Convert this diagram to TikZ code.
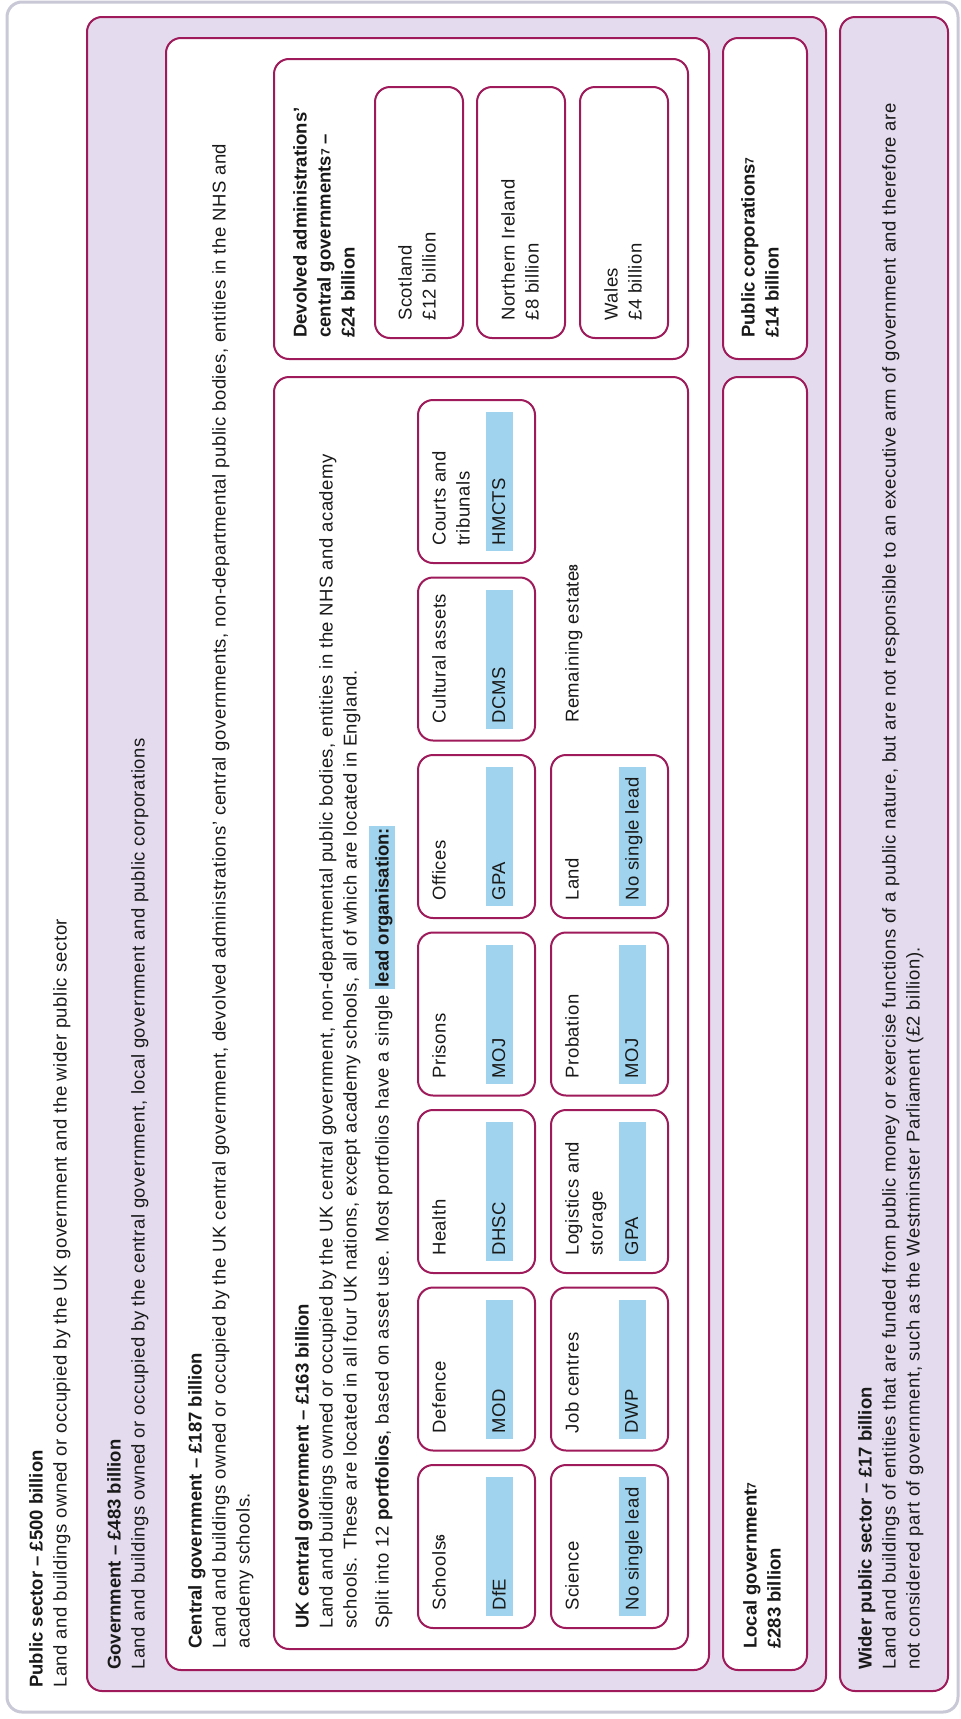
\documentclass[tikz,border=0pt]{standalone}
\usepackage{fontspec}
\setmainfont{Liberation Sans}[LetterSpace=3,BoldFeatures={LetterSpace=0}]
\definecolor{crim}{RGB}{158,26,90}
\definecolor{purp}{RGB}{228,220,238}
\definecolor{greyline}{RGB}{200,200,214}
\definecolor{hlblue}{RGB}{160,212,238}
\definecolor{ink}{RGB}{25,25,25}
\newcommand\fnum[1]{\raisebox{1pt}{\fontsize{12}{12}\selectfont\bfseries #1}}
\newcommand\hlt[1]{\smash{\setlength{\fboxsep}{0pt}\colorbox{hlblue}{\rule[-6pt]{0pt}{26pt}\hspace{2pt}#1\hspace{2pt}}}}
\newcommand\portf[5]{%
  \draw[wbox] (#2,{#3-163}) rectangle ({#2+117},#3);
  \fill[hlblue] ({#2+68},{#3-151}) rectangle ({#2+95},{#3-12});
  \node[txt] (#1) at ({#2+14},{#3-17}) {#4};
  \node[txt] (#1-lead) at ({#2+74},{#3-17}) {#5};
}
\begin{document}
\begin{tikzpicture}[x=1pt,y=-1pt,
  box/.style={draw=crim,line width=2pt,rounded corners=15pt},
  pbox/.style={box,fill=purp},
  wbox/.style={box,fill=white},
  txt/.style={rotate=90,anchor=north west,inner sep=0pt,align=left,font=\fontsize{18.5}{24}\selectfont,text=ink}]
\useasboundingbox (0,0) rectangle (961,1719);
\fill[white] (0,0) rectangle (961,1719);
% outer public sector frame
\draw[draw=greyline,line width=3pt,rounded corners=15pt,fill=white] (7,2) rectangle (958,1712);
% government
\draw[pbox] (87,17) rectangle (826,1691);
% wider public sector
\draw[pbox] (840,17) rectangle (948,1691);
% central government
\draw[wbox] (166,38) rectangle (709,1670);
% public corporations
\draw[wbox] (723,38) rectangle (807,359);
% local government
\draw[wbox] (723,377) rectangle (807,1670);
% devolved
\draw[wbox] (274,59) rectangle (688,359);
\draw[wbox] (375,87) rectangle (463,338);
\draw[wbox] (477,87) rectangle (565,338);
\draw[wbox] (580,87) rectangle (668,338);
% UK central
\draw[wbox] (274,377) rectangle (688,1649);

% portfolios
\portf{schools}{418}{1628}{Schools\fnum{6}}{DfE}
\portf{defence}{418}{1450.5}{Defence}{MOD}
\portf{health}{418}{1273}{Health}{DHSC}
\portf{prisons}{418}{1095.5}{Prisons}{MOJ}
\portf{offices}{418}{918}{Offices}{GPA}
\portf{cultural}{418}{740.5}{Cultural assets}{DCMS}
\portf{courts}{418}{563}{Courts and\\tribunals}{HMCTS}
\portf{science}{551}{1628}{Science}{No single lead}
\portf{jobs}{551}{1450.5}{Job centres}{DWP}
\portf{logistics}{551}{1273}{Logistics and\\storage}{GPA}
\portf{probation}{551}{1095.5}{Probation}{MOJ}
\portf{land}{551}{918}{Land}{No single lead}
\node[txt] (remaining) at (565,723) {Remaining estate\fnum{8}};

% texts
\node[txt] (ps) at (29,1688) {\textbf{Public sector – £500 billion}\\Land and buildings owned or occupied by the UK government and the wider public sector};
\node[txt] (gov) at (107,1670) {\textbf{Government – £483 billion}\\Land and buildings owned or occupied by the central government, local government and public corporations};
\node[txt] (cen) at (188,1649) {\textbf{Central government – £187 billion}\\Land and buildings owned or occupied by the UK central government, devolved administrations’ central governments, non-departmental public bodies, entities in the NHS and\\academy schools.};
\node[txt] (ukc) at (295,1629) {\textbf{UK central government – £163 billion}\\Land and buildings owned or occupied by the UK central government, non-departmental public bodies, entities in the NHS and academy\\schools. These are located in all four UK nations, except academy schools, all of which are located in England.\\[8pt]Split into 12 \textbf{portfolios}, based on asset use. Most portfolios have a single \hlt{\textbf{lead organisation:}}};
\node[txt] (dev) at (293,338) {\textbf{Devolved administrations’}\\\textbf{central governments\fnum{7} –}\\\textbf{£24 billion}};
\node[txt] (sco) at (398,321) {Scotland\\£12 billion};
\node[txt] (ni) at (501,321) {Northern Ireland\\£8 billion};
\node[txt] (wal) at (604,321) {Wales\\£4 billion};
\node[txt] (pc) at (741,338) {\textbf{Public corporations\fnum{7}}\\\textbf{£14 billion}};
\node[txt] (lg) at (743,1649) {\textbf{Local government\fnum{7}}\\\textbf{£283 billion}};
\node[txt] (wps) at (858,1670) {\textbf{Wider public sector – £17 billion}\\Land and buildings of entities that are funded from public money or exercise functions of a public nature, but are not responsible to an executive arm of government and therefore are\\not considered part of government, such as the Westminster Parliament (£2 billion).};
\end{tikzpicture}
\end{document}
